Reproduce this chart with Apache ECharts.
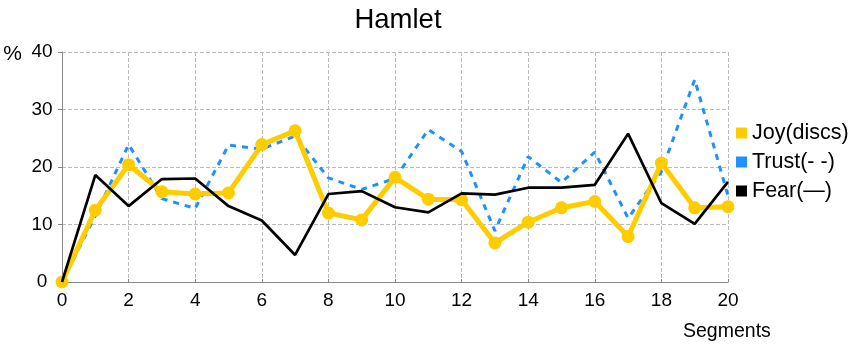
<!DOCTYPE html>
<html>
<head>
<meta charset="utf-8">
<script src="https://cdn.jsdelivr.net/npm/echarts@6/dist/echarts.min.js"></script>
<style>
  html, body { margin: 0; padding: 0; background: #fff; }
  #myChart { width: 857px; height: 349px; }
</style>
</head>
<body>
<div id="myChart"></div>
<script>
// segments 0..20
const segments = [0, 1, 2, 3, 4, 5, 6, 7, 8, 9, 10, 11, 12, 13, 14, 15, 16, 17, 18, 19, 20];
const joy = [0, 12.5, 20.4, 15.7, 15.3, 15.5, 23.9, 26.3, 12.0, 10.8, 18.2, 14.4, 14.3, 6.8, 10.4, 12.9, 14.0, 7.9, 20.7, 12.9, 13.1];
const trust = [0, 11.5, 23.9, 14.5, 12.8, 23.8, 23.1, 25.4, 18.1, 16.1, 18.0, 26.5, 22.7, 8.9, 21.8, 17.3, 22.6, 11.1, 19.2, 35.2, 15.0];
const fear = [0, 18.6, 13.2, 17.9, 18.0, 13.2, 10.7, 4.7, 15.3, 15.8, 13.0, 12.1, 15.4, 15.2, 16.4, 16.4, 16.9, 25.8, 13.7, 10.1, 17.4];

const pairs = (arr) => segments.map((s, i) => [s, arr[i]]);

let myChart = echarts.init(document.getElementById("myChart"));

let option = {
  animation: false,
  textStyle: { fontFamily: "Liberation Sans, Arial, sans-serif" },
  title: {
    text: "Hamlet",
    left: 393,
    textAlign: "center",
    top: 1,
    textStyle: { fontSize: 27.5, fontWeight: "normal", color: "#000" },
  },
  legend: {
    orient: "vertical",
    left: 731,
    top: 117,
    itemWidth: 11,
    itemHeight: 11,
    itemGap: 7,
    icon: "rect",
    textStyle: { fontSize: 21.5, color: "#000" },
    data: [
      { name: "Joy(discs)", itemStyle: { color: "#ffcc00" } },
      { name: "Trust(- -)", itemStyle: { color: "#1e90ff" } },
      { name: "Fear(—)", itemStyle: { color: "#000000" } },
    ],
  },
  grid: { left: 62, right: 129, top: 52, bottom: 67 },
  xAxis: {
    type: "value",
    min: 0,
    max: 20,
    interval: 2,
    name: "Segments",
    nameLocation: "end",
    nameGap: -45,
    nameTextStyle: { fontSize: 19.5, color: "#000", align: "left", verticalAlign: "top", padding: [40, 0, 0, 0] },
    axisLine: { lineStyle: { color: "#888" } },
    axisTick: { show: true, inside: true, length: 3, lineStyle: { color: "#888" } },
    axisLabel: { fontSize: 19, color: "#000", margin: 9 },
    splitLine: { show: true, lineStyle: { type: "dashed", color: "#bbb" } },
  },
  yAxis: {
    type: "value",
    min: 0,
    max: 40,
    interval: 10,
    name: "%",
    nameLocation: "end",
    nameGap: 8,
    nameTextStyle: { fontSize: 21, color: "#000", align: "right", verticalAlign: "top", padding: [0, 40, 0, 0] },
    axisLine: { show: true, lineStyle: { color: "#888" } },
    axisTick: { show: true, length: 4, lineStyle: { color: "#888" } },
    axisLabel: { fontSize: 19, color: "#000", align: "center", margin: 20 },
    splitLine: { show: true, lineStyle: { type: "dashed", color: "#bbb" } },
  },
  series: [
    {
      name: "Trust(- -)",
      type: "line",
      z: 2,
      data: pairs(trust),
      showSymbol: false,
      symbol: "none",
      lineStyle: { color: "#1e90ff", width: 3, type: [6, 6] },
      itemStyle: { color: "#1e90ff" },
    },
    {
      name: "Joy(discs)",
      type: "line",
      z: 3,
      data: pairs(joy),
      symbol: "circle",
      symbolSize: 13,
      lineStyle: { color: "#ffcc00", width: 5 },
      itemStyle: { color: "#ffcc00" },
    },
    {
      name: "Fear(—)",
      type: "line",
      z: 4,
      data: pairs(fear),
      symbol: "none",
      lineStyle: { color: "#000", width: 2.7 },
      itemStyle: { color: "#000" },
    },
  ],
};
myChart.setOption(option);
</script>
</body>
</html>
